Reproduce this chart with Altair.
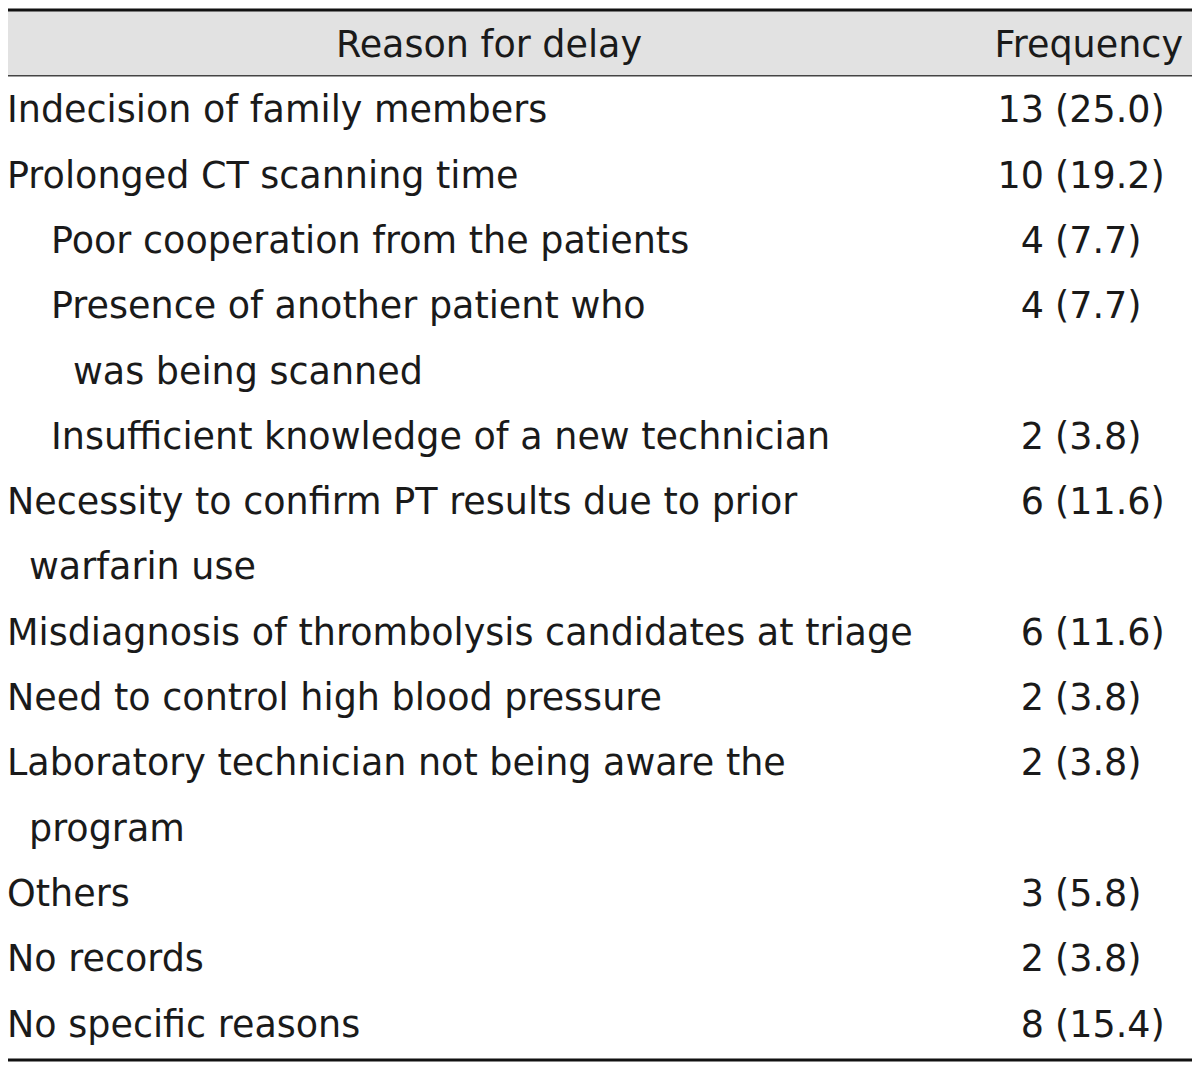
import altair as alt
import pandas as pd

# ---- data ----
header_reason = "Reason for delay"
header_freq = "Frequency"
labels = [
    "Indecision of family members",
    "Prolonged CT scanning time",
    "Poor cooperation from the patients",
    "Presence of another patient who",
    "was being scanned",
    "Insufficient knowledge of a new technician",
    "Necessity to confirm PT results due to prior",
    "warfarin use",
    "Misdiagnosis of thrombolysis candidates at triage",
    "Need to control high blood pressure",
    "Laboratory technician not being aware the",
    "program",
    "Others",
    "No records",
    "No specific reasons",
]
indent = [0, 0, 2, 2, 3, 2, 0, 1, 0, 0, 0, 1, 0, 0, 0]
counts = ["13", "10", "4", "4", "", "2", "6", "", "6", "2", "2", "", "3", "2", "8"]
pcts = ["(25.0)", "(19.2)", "(7.7)", "(7.7)", "", "(3.8)", "(11.6)", "", "(11.6)",
        "(3.8)", "(3.8)", "", "(5.8)", "(3.8)", "(15.4)"]

rows = pd.DataFrame({
    "row": list(range(1, len(labels) + 1)),
    "label": labels,
    "indent": indent,
    "count": counts,
    "pct": pcts,
})

W, H = 1184, 1056
FONT = "DejaVu Sans"
FS = 36.5
COLOR = "#1a1a1a"

yscale = alt.Scale(domain=[0, 15], range=[49, 1028.5], nice=False, zero=False)
ynoaxis = dict(scale=yscale, axis=None)

band = alt.Chart(pd.DataFrame({"y": [-0.72], "y2": [0.286]})).mark_rect(
    color="#e2e2e2"
).encode(
    x=alt.value(0), x2=alt.value(W),
    y=alt.Y("y:Q", **ynoaxis), y2="y2:Q",
)

rules_df = pd.DataFrame({"y": [-0.72, 0.286, 15.36], "w": [3, 1.6, 3.2],
                         "c": ["#111111", "#444444", "#111111"]})
rules = alt.Chart(rules_df).mark_rule().encode(
    x=alt.value(0), x2=alt.value(W),
    y=alt.Y("y:Q", **ynoaxis),
    strokeWidth=alt.StrokeWidth("w:Q", scale=None, legend=None),
    color=alt.Color("c:N", scale=None, legend=None),
)

hdr = pd.DataFrame({"row": [0], "t": [header_reason]})
hdr_reason = alt.Chart(hdr).mark_text(
    font=FONT, fontSize=FS, color=COLOR, align="center", baseline="alphabetic"
).encode(x=alt.value(481), y=alt.Y("row:Q", **ynoaxis), text="t:N")

hdr2 = pd.DataFrame({"row": [0], "t": [header_freq]})
hdr_freq = alt.Chart(hdr2).mark_text(
    font=FONT, fontSize=FS, color=COLOR, align="right", baseline="alphabetic"
).encode(x=alt.value(1175), y=alt.Y("row:Q", **ynoaxis), text="t:N")

lab = alt.Chart(rows).mark_text(
    font=FONT, fontSize=FS, color=COLOR, align="left", baseline="alphabetic"
).encode(
    x=alt.X("indent:Q", scale=alt.Scale(domain=[0, 3], range=[-1, 65]), axis=None),
    y=alt.Y("row:Q", **ynoaxis),
    text="label:N",
)

cnt = alt.Chart(rows).mark_text(
    font=FONT, fontSize=FS, color=COLOR, align="right", baseline="alphabetic"
).encode(x=alt.value(1036), y=alt.Y("row:Q", **ynoaxis), text="count:N")

pct = alt.Chart(rows).mark_text(
    font=FONT, fontSize=FS, color=COLOR, align="left", baseline="alphabetic"
).encode(x=alt.value(1047), y=alt.Y("row:Q", **ynoaxis), text="pct:N")

chart = alt.layer(band, rules, hdr_reason, hdr_freq, lab, cnt, pct).properties(
    width=W, height=H, padding=0, autosize=alt.AutoSizeParams(type="none"),
    background="white",
).configure_view(stroke=None)

chart.save("out.html", embed_options={"renderer": "svg", "actions": False})
